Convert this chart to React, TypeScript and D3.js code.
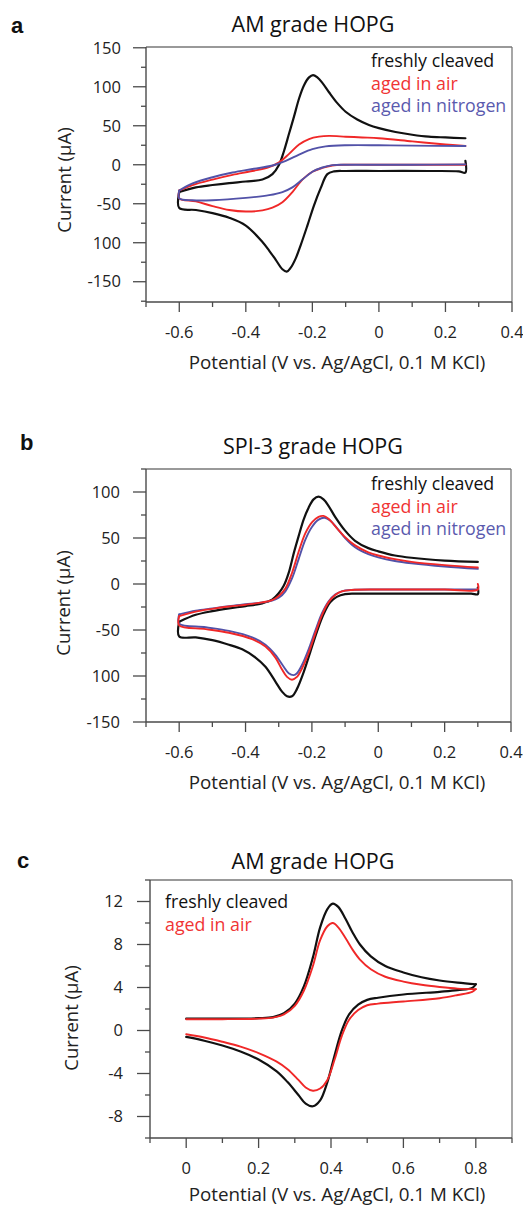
import React from 'react';
import * as d3 from 'd3';

type Pt = [number, number];

// ---------- Panel a : AM grade HOPG ----------
const aFreshOx: Pt[] = [[-0.6,-35],[-0.55,-29],[-0.5,-26],[-0.45,-23.5],[-0.4,-21.5],[-0.35,-19],[-0.32,-12],[-0.3,0],[-0.285,18],[-0.27,40],[-0.255,62],[-0.24,85],[-0.225,102],[-0.21,112],[-0.198,115],[-0.185,112],[-0.17,105],[-0.15,93],[-0.125,79],[-0.1,68],[-0.065,58],[-0.03,51],[0.0,47],[0.05,42],[0.1,38.5],[0.15,36],[0.2,35],[0.26,34]];
const aFreshRed: Pt[] = [[0.26,5],[0.26,-10],[0.24,-8.5],[0.15,-8],[0.0,-8],[-0.1,-8],[-0.135,-8.5],[-0.155,-12],[-0.175,-30],[-0.195,-52],[-0.215,-78],[-0.235,-103],[-0.25,-120],[-0.265,-132],[-0.277,-137],[-0.29,-134],[-0.31,-122],[-0.33,-110],[-0.35,-99],[-0.4,-78],[-0.45,-68],[-0.5,-62],[-0.55,-58],[-0.6,-55.5],[-0.6,-35]];
const aAirOx: Pt[] = [[-0.6,-33],[-0.56,-26],[-0.5,-19],[-0.44,-13],[-0.38,-8],[-0.33,-3],[-0.3,3],[-0.27,14],[-0.24,26],[-0.21,33],[-0.18,36],[-0.15,37],[-0.1,36],[-0.05,35],[0.0,34],[0.1,30],[0.2,26],[0.26,24]];
const aAirRed: Pt[] = [[0.26,0],[0.15,0],[0.0,0],[-0.1,0],[-0.14,-1],[-0.17,-4],[-0.2,-9],[-0.23,-19],[-0.26,-35],[-0.29,-48],[-0.32,-55],[-0.35,-58.5],[-0.4,-60],[-0.45,-58],[-0.5,-53],[-0.55,-47],[-0.6,-43],[-0.6,-33]];
const aN2Ox: Pt[] = [[-0.6,-33],[-0.56,-24],[-0.5,-16],[-0.44,-10],[-0.38,-5.5],[-0.32,-1],[-0.28,5],[-0.24,13],[-0.2,20],[-0.16,23.5],[-0.1,25],[0.0,25],[0.1,24.5],[0.26,24]];
const aN2Red: Pt[] = [[0.26,0.5],[0.1,0],[-0.1,0],[-0.14,-0.5],[-0.17,-3.5],[-0.2,-9],[-0.23,-19],[-0.26,-29],[-0.29,-35],[-0.33,-39],[-0.4,-42.5],[-0.5,-45.5],[-0.56,-45.5],[-0.6,-43],[-0.6,-33]];
const aYTicks = [150, 100, 50, 0, -50, -100, -150];
const aYTickLabels = ['150', '100', '50', '0', '-50', '100', '-150'];
const aXTicks = [-0.6, -0.4, -0.2, 0, 0.2, 0.4];
const aXTickLabels = ['-0.6', '-0.4', '-0.2', '0', '0.2', '0.4'];

// ---------- Panel b : SPI-3 grade HOPG ----------
const bFreshOx: Pt[] = [[-0.6,-41],[-0.55,-33.5],[-0.5,-29.5],[-0.45,-26.5],[-0.4,-24],[-0.35,-21],[-0.32,-17],[-0.3,-10],[-0.285,-2],[-0.27,12],[-0.255,33],[-0.24,52],[-0.225,70],[-0.21,83],[-0.195,92],[-0.18,95],[-0.165,92],[-0.15,85],[-0.13,73],[-0.1,58],[-0.07,47],[-0.03,39],[0.0,35.5],[0.05,31],[0.1,28.5],[0.2,25.5],[0.3,24]];
const bFreshRed: Pt[] = [[0.3,-4],[0.3,-11],[0.28,-10.5],[0.2,-10.5],[0.1,-10.5],[0.0,-10.5],[-0.07,-10.5],[-0.1,-11],[-0.125,-14],[-0.145,-20],[-0.165,-33],[-0.185,-52],[-0.205,-74],[-0.225,-96],[-0.245,-114],[-0.26,-122],[-0.275,-122],[-0.29,-117],[-0.31,-106],[-0.34,-90],[-0.37,-80],[-0.41,-71],[-0.45,-66],[-0.5,-61],[-0.55,-58],[-0.6,-57],[-0.6,-41]];
const bAirOx: Pt[] = [[-0.6,-35],[-0.55,-30],[-0.5,-27],[-0.45,-24.5],[-0.4,-22.5],[-0.35,-20],[-0.32,-17.5],[-0.3,-13],[-0.28,-5],[-0.26,12],[-0.24,35],[-0.22,55],[-0.2,67],[-0.18,73],[-0.165,74],[-0.15,71],[-0.13,63],[-0.1,51],[-0.07,42],[-0.03,34.5],[0.0,31],[0.05,27],[0.1,24],[0.2,20.5],[0.3,18]];
const bAirRed: Pt[] = [[0.3,0],[0.3,-6],[0.2,-6],[0.0,-6],[-0.08,-6.5],[-0.11,-8],[-0.13,-12],[-0.15,-20],[-0.17,-34],[-0.19,-54],[-0.21,-75],[-0.23,-92],[-0.245,-101],[-0.26,-104],[-0.275,-101],[-0.29,-93],[-0.31,-80],[-0.34,-68],[-0.38,-60],[-0.45,-53],[-0.52,-49],[-0.6,-45],[-0.6,-35]];
const bN2Ox: Pt[] = [[-0.6,-33],[-0.55,-29],[-0.5,-26.5],[-0.45,-24],[-0.4,-22],[-0.35,-20],[-0.32,-18],[-0.3,-15],[-0.28,-8],[-0.26,6],[-0.24,27],[-0.22,48],[-0.2,62],[-0.18,70],[-0.162,72],[-0.145,69],[-0.125,61],[-0.1,50],[-0.07,40],[-0.03,32.5],[0.0,29],[0.05,25],[0.1,22.5],[0.2,19],[0.3,16.5]];
const bN2Red: Pt[] = [[0.3,-6],[0.2,-6],[0.0,-6],[-0.08,-6.5],[-0.11,-8],[-0.13,-11.5],[-0.15,-19],[-0.17,-32],[-0.19,-51],[-0.21,-71],[-0.23,-88],[-0.245,-97],[-0.255,-99],[-0.27,-97],[-0.285,-90],[-0.31,-77],[-0.34,-66],[-0.38,-58],[-0.45,-51],[-0.52,-47],[-0.6,-43],[-0.6,-33]];
const bYTicks = [100, 50, 0, -50, -100, -150];
const bYTickLabels = ['100', '50', '0', '-50', '100', '-150'];
const bXTicks = [-0.6, -0.4, -0.2, 0, 0.2, 0.4];
const bXTickLabels = ['-0.6', '-0.4', '-0.2', '0', '0.2', '0.4'];

// ---------- Panel c : AM grade HOPG ----------
const cFreshOx: Pt[] = [[0,1.1],[0.1,1.1],[0.2,1.15],[0.24,1.25],[0.27,1.6],[0.3,2.5],[0.325,4.1],[0.35,6.8],[0.37,9.6],[0.39,11.3],[0.405,11.8],[0.42,11.5],[0.44,10.4],[0.46,9.1],[0.48,8.0],[0.51,6.9],[0.55,6.0],[0.6,5.4],[0.65,4.95],[0.7,4.65],[0.75,4.45],[0.8,4.3]];
const cFreshRed: Pt[] = [[0.8,4.3],[0.79,3.95],[0.75,3.75],[0.7,3.6],[0.6,3.35],[0.53,3.05],[0.5,2.85],[0.475,2.4],[0.45,1.5],[0.43,0],[0.41,-2.3],[0.39,-4.8],[0.37,-6.5],[0.35,-7.05],[0.33,-6.8],[0.31,-6.0],[0.28,-4.8],[0.25,-3.8],[0.2,-2.7],[0.15,-1.95],[0.1,-1.4],[0.05,-0.95],[0,-0.6]];
const cAirOx: Pt[] = [[0,1.05],[0.1,1.05],[0.2,1.1],[0.24,1.2],[0.27,1.5],[0.3,2.3],[0.325,3.7],[0.35,6.0],[0.37,8.4],[0.39,9.7],[0.405,10.0],[0.42,9.6],[0.44,8.6],[0.46,7.5],[0.48,6.6],[0.51,5.7],[0.55,5.0],[0.6,4.55],[0.65,4.25],[0.7,4.05],[0.75,3.9],[0.8,3.85]];
const cAirRed: Pt[] = [[0.8,3.85],[0.79,3.6],[0.75,3.3],[0.7,3.0],[0.6,2.7],[0.53,2.5],[0.5,2.35],[0.475,1.9],[0.45,1.0],[0.43,-0.5],[0.41,-2.7],[0.39,-4.6],[0.37,-5.4],[0.35,-5.6],[0.33,-5.3],[0.31,-4.6],[0.28,-3.6],[0.25,-2.9],[0.2,-2.1],[0.15,-1.5],[0.1,-1.05],[0.05,-0.65],[0,-0.35]];
const cYTicks = [12, 8, 4, 0, -4, -8];
const cYTickLabels = ['12', '8', '4', '0', '-4', '-8'];
const cXTicks = [0, 0.2, 0.4, 0.6, 0.8];
const cXTickLabels = ['0', '0.2', '0.4', '0.6', '0.8'];

const legend3 = ['freshly cleaved', 'aged in air', 'aged in nitrogen'];
const legend2 = ['freshly cleaved', 'aged in air'];

const BLACK = '#111111';
const RED = '#f02828';
const BLUE = '#5252a8';
const LEG_COLORS = ['#111111', '#f03434', '#5a5aae'];
const FONT = "'Open Sans', 'Noto Sans', sans-serif";
const AXIS = '#4a4a4a';

interface PanelCfg {
  letter: string;
  title: string;
  left: number; right: number; top: number; bottom: number;
  xDomain: [number, number]; yDomain: [number, number];
  xTicks: number[]; xTickLabels: string[]; xMinorStep: number;
  yTicks: number[]; yTickLabels: string[]; yMinorStep: number;
  series: { color: string; width: number; paths: Pt[][] }[];
  legend: string[]; legendX: number; legendY: number;
  yLabelX: number; yLabelY: number; yTickRight: number;
  titleY: number; letterY: number; letterX: number; xTitleOffset: number;
}

const panels: PanelCfg[] = [
  {
    letter: 'a', title: 'AM grade HOPG',
    left: 146, right: 512, top: 47, bottom: 302,
    xDomain: [-0.7, 0.4], yDomain: [-176, 151],
    xTicks: aXTicks, xTickLabels: aXTickLabels, xMinorStep: 0.1,
    yTicks: aYTicks, yTickLabels: aYTickLabels, yMinorStep: 25,
    series: [
      { color: BLACK, width: 2.2, paths: [aFreshOx, aFreshRed] },
      { color: RED, width: 1.9, paths: [aAirOx, aAirRed] },
      { color: BLUE, width: 1.9, paths: [aN2Ox, aN2Red] },
    ],
    legend: legend3, legendX: 371, legendY: 67,
    yLabelX: 63, yLabelY: 180, yTickRight: 121,
    titleY: 32, letterY: 33, letterX: 11, xTitleOffset: 67,
  },
  {
    letter: 'b', title: 'SPI-3 grade HOPG',
    left: 146, right: 511, top: 469, bottom: 722,
    xDomain: [-0.7, 0.4], yDomain: [-150, 125],
    xTicks: bXTicks, xTickLabels: bXTickLabels, xMinorStep: 0.1,
    yTicks: bYTicks, yTickLabels: bYTickLabels, yMinorStep: 25,
    series: [
      { color: BLACK, width: 2.2, paths: [bFreshOx, bFreshRed] },
      { color: BLUE, width: 1.9, paths: [bN2Ox, bN2Red] },
      { color: RED, width: 1.9, paths: [bAirOx, bAirRed] },
    ],
    legend: legend3, legendX: 371, legendY: 490,
    yLabelX: 62, yLabelY: 603, yTickRight: 120,
    titleY: 454, letterY: 450, letterX: 20, xTitleOffset: 67,
  },
  {
    letter: 'c', title: 'AM grade HOPG',
    left: 150, right: 512, top: 880, bottom: 1138,
    xDomain: [-0.1, 0.9], yDomain: [-10, 14],
    xTicks: cXTicks, xTickLabels: cXTickLabels, xMinorStep: 0.1,
    yTicks: cYTicks, yTickLabels: cYTickLabels, yMinorStep: 2,
    series: [
      { color: BLACK, width: 2.2, paths: [cFreshOx, cFreshRed] },
      { color: RED, width: 1.9, paths: [cAirOx, cAirRed] },
    ],
    legend: legend2, legendX: 165, legendY: 908,
    yLabelX: 70, yLabelY: 1018, yTickRight: 123,
    titleY: 869, letterY: 868, letterX: 17, xTitleOffset: 63,
  },
];

function Panel({ p }: { p: PanelCfg }) {
  const x = d3.scaleLinear().domain(p.xDomain).range([p.left, p.right]);
  const y = d3.scaleLinear().domain(p.yDomain).range([p.bottom, p.top]);
  const line = d3.line<Pt>().x(d => x(d[0])).y(d => y(d[1])).curve(d3.curveCatmullRom.alpha(0.5));

  const eps = 1e-6;
  const xMinor = d3.range(Math.ceil(p.xDomain[0] / p.xMinorStep - eps), Math.floor(p.xDomain[1] / p.xMinorStep + eps) + 1)
    .map(k => k * p.xMinorStep)
    .filter(v => !p.xTicks.some(t => Math.abs(t - v) < eps));
  const yMinor = d3.range(Math.ceil(p.yDomain[0] / p.yMinorStep - eps), Math.floor(p.yDomain[1] / p.yMinorStep + eps) + 1)
    .map(k => k * p.yMinorStep)
    .filter(v => !p.yTicks.some(t => Math.abs(t - v) < eps));

  const midX = 337;
  return (
    <g>
      <text x={p.letterX} y={p.letterY} fontFamily="'Liberation Sans', Arial, sans-serif" fontWeight="bold" fontSize={22} fill="#111">{p.letter}</text>
      <text x={313} y={p.titleY} textAnchor="middle" fontFamily={FONT} fontSize={21.5} fill="#111">{p.title}</text>

      {/* frame */}
      <line x1={p.left} x2={p.right} y1={p.top} y2={p.top} stroke="#777" strokeWidth={1.3} />
      <line x1={p.right} x2={p.right} y1={p.top} y2={p.bottom} stroke="#777" strokeWidth={1.3} />
      <line x1={p.left} x2={p.left} y1={p.top} y2={p.bottom} stroke={AXIS} strokeWidth={1.4} />
      <line x1={p.left} x2={p.right} y1={p.bottom} y2={p.bottom} stroke={AXIS} strokeWidth={1.4} />

      {/* y ticks */}
      {p.yTicks.map((v, i) => (
        <g key={'ym' + i}>
          <line x1={p.left - 13} x2={p.left} y1={y(v)} y2={y(v)} stroke={AXIS} strokeWidth={1.3} />
          <text x={p.yTickRight} y={y(v)} dy="0.35em" textAnchor="end" fontFamily={FONT} fontSize={16.5} fill="#222">{p.yTickLabels[i]}</text>
        </g>
      ))}
      {yMinor.map((v, i) => (
        <line key={'yn' + i} x1={p.left - 5} x2={p.left} y1={y(v)} y2={y(v)} stroke={AXIS} strokeWidth={1.3} />
      ))}

      {/* x ticks */}
      {p.xTicks.map((v, i) => (
        <g key={'xm' + i}>
          <line x1={x(v)} x2={x(v)} y1={p.bottom} y2={p.bottom + 10} stroke={AXIS} strokeWidth={1.3} />
          <text x={x(v)} y={p.bottom + 36} textAnchor="middle" fontFamily={FONT} fontSize={16.5} fill="#222">{p.xTickLabels[i]}</text>
        </g>
      ))}
      {xMinor.map((v, i) => (
        <line key={'xn' + i} x1={x(v)} x2={x(v)} y1={p.bottom} y2={p.bottom + 5} stroke={AXIS} strokeWidth={1.3} />
      ))}

      <text x={midX} y={p.bottom + p.xTitleOffset} textAnchor="middle" fontFamily={FONT} fontSize={18.8} fill="#222">Potential (V vs. Ag/AgCl, 0.1 M KCl)</text>
      <text transform={`translate(${p.yLabelX},${p.yLabelY}) rotate(-90)`} textAnchor="middle" dominantBaseline="central" fontFamily={FONT} fontSize={18.5} fill="#222">Current (µA)</text>

      {/* curves */}
      {p.series.map((s, i) => (
        <g key={'s' + i}>
          {s.paths.map((pts, j) => (
            <path key={j} d={line(pts) || ''} fill="none" stroke={s.color} strokeWidth={s.width} strokeLinejoin="round" strokeLinecap="round" />
          ))}
        </g>
      ))}

      {/* legend */}
      {p.legend.map((t, i) => (
        <text key={'l' + i} x={p.legendX} y={p.legendY + i * 22.5} fontFamily={FONT} fontSize={17.8} fill={LEG_COLORS[i]}>{t}</text>
      ))}
    </g>
  );
}

export default function App() {
  return (
    <svg width={523} height={1209} style={{ position: 'absolute', left: 0, top: 0, background: '#fff' }}>
      <rect x={0} y={0} width={523} height={1209} fill="#fff" />
      {panels.map((p, i) => <Panel key={i} p={p} />)}
    </svg>
  );
}
